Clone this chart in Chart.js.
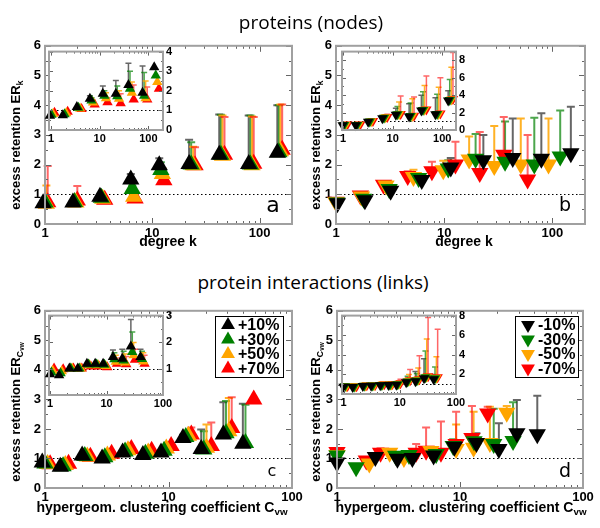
<!DOCTYPE html>
<html>
<head>
<meta charset="utf-8">
<script src="https://cdn.jsdelivr.net/npm/chart.js@4.4.1/dist/chart.umd.min.js"></script>
<style>
body { margin: 0; background: #fff; }
#wrap { position: relative; width: 600px; height: 528px; overflow: hidden; font-family: "Liberation Sans", Arial, sans-serif; }
canvas { position: absolute; }
.t { position: absolute; white-space: nowrap; line-height: 1; }
.head { font-family: "Open Sans", sans-serif; font-size: 19px; transform: translate(-50%, -50%); }
.xt { font-weight: bold; font-size: 14px; transform: translate(-50%, -50%); }
.yt { font-weight: bold; font-size: 13px; transform: translate(-50%, -50%) rotate(-90deg); }
.lt { font-family: "DejaVu Sans", sans-serif; transform: translate(-50%, -50%); }
sub { font-size: 70%; vertical-align: -0.3em; }
</style>
</head>
<body>
<div id="wrap">
  <canvas id="pa"></canvas>
  <canvas id="pb"></canvas>
  <canvas id="pc"></canvas>
  <canvas id="pd"></canvas>
  <canvas id="ia"></canvas>
  <canvas id="ib"></canvas>
  <canvas id="ic"></canvas>
  <canvas id="id"></canvas>

  <div class="t head" style="left:311px;top:22px">proteins (nodes)</div>
  <div class="t head" style="left:313px;top:282px">protein interactions (links)</div>

  <div class="t yt" style="left:17px;top:145px">excess retention ER<sub>k</sub></div>
  <div class="t yt" style="left:317px;top:145px">excess retention ER<sub>k</sub></div>
  <div class="t yt" style="left:17px;top:412px">excess retention ER<sub>C<sub>vw</sub></sub></div>
  <div class="t yt" style="left:317px;top:412px">excess retention ER<sub>C<sub>vw</sub></sub></div>

  <div class="t xt" style="left:168px;top:241px">degree k</div>
  <div class="t xt" style="left:464px;top:241px">degree k</div>
  <div class="t xt" style="left:162px;top:508px">hypergeom. clustering coefficient C<sub>vw</sub></div>
  <div class="t xt" style="left:461px;top:508px">hypergeom. clustering coefficient C<sub>vw</sub></div>

  <div class="t lt" style="left:273px;top:205px;font-size:22px">a</div>
  <div class="t lt" style="left:565px;top:204px;font-size:19px">b</div>
  <div class="t lt" style="left:272px;top:471px;font-size:16px">c</div>
  <div class="t lt" style="left:565px;top:470px;font-size:19px">d</div>
</div>

<script>
// series order everywhere: black, green, orange, red
const plusLabels = ['+10%', '+30%', '+50%', '+70%'];
const minusLabels = ['-10%', '-30%', '-50%', '-70%'];

const mainYTicks = [0, 1, 2, 3, 4, 5, 6];
const logTicks = [1, 10, 100];

// --- panel a: proteins, nodes added ---
const aX = [
    [0.96, 1.82, 3.25, 6.3, 11.6, 22, 42, 79, 146],
    [1.0, 1.88, 3.35, 6.5, 12.0, 23, 43.5, 82, 151],
    [1.03, 1.94, 3.45, 6.7, 12.4, 24, 45, 85, 156],
    [1.06, 2.0, 3.6, 6.9, 12.8, 25, 47, 88, 162]
];
const aY = [
    [0.70, 0.72, 0.92, 1.50, 1.98, 2.02, 2.33, 2.02, 2.40],
    [0.72, 0.74, 0.88, 1.18, 1.82, 2.00, 2.33, 2.00, 2.42],
    [0.68, 0.72, 0.85, 0.92, 1.68, 1.98, 2.30, 1.98, 2.45],
    [0.73, 0.79, 0.82, 0.86, 1.47, 1.98, 2.33, 2.03, 2.50]
];
const aErr = [
    [null, null, null, 1.68, 2.21, 2.84, 3.69, 3.65, 4.0],
    [0.8, null, null, 1.3, 2.08, 2.75, 3.68, 3.65, 4.0],
    [1.3, 0.8, null, 1.05, 1.88, 2.6, 3.65, 3.62, 4.02],
    [1.95, 1.28, null, null, 1.68, 2.58, 3.6, 3.6, 4.02]
];

// inset a
const aiYTicks = [0, 1, 2, 3, 4];
const aiX = [
    [0.95, 1.75, 3.4, 6.3, 11.6, 21.5, 39, 76, 132],
    [1.02, 1.9, 3.65, 6.8, 12.5, 23, 42, 82, 142],
    [1.1, 2.05, 3.95, 7.3, 13.5, 25, 46, 88, 153],
    [1.18, 2.2, 4.25, 7.9, 14.5, 27, 50, 95, 165]
];
const aiY = [
    [0.73, 0.75, 1.17, 1.6, 1.85, 1.85, 2.3, 1.9, 3.2],
    [0.78, 0.8, 1.14, 1.5, 1.75, 1.72, 2.1, 1.75, 2.78],
    [0.82, 0.86, 1.1, 1.4, 1.62, 1.6, 1.9, 1.62, 2.45],
    [0.88, 0.93, 1.07, 1.3, 1.42, 1.37, 1.55, 1.55, 2.1]
];
const aiErr = [
    [null, null, null, 1.75, 2.24, 2.53, 3.4, 3.27, null],
    [null, null, null, 1.65, 2.0, 2.25, 3.0, 2.93, null],
    [null, null, null, 1.5, 1.9, 2.0, 2.45, 2.5, null],
    [null, null, null, null, 1.65, 1.85, 2.3, 2.2, null]
];

// --- panel b: proteins, nodes removed ---
const bX = [
    [1.03, 1.85, 3.2, 6.2, 11.5, 23, 43, 79, 148],
    [1.02, 1.8, 3.1, 5.8, 10.9, 19.5, 36.5, 68, 118],
    [1.0, 1.72, 2.9, 5.2, 9.8, 17, 29, 51, 92],
    [1.0, 1.68, 2.75, 4.6, 7.7, 12.7, 21.3, 35.5, 59]
];
const bY = [
    [0.70, 0.80, 1.12, 1.48, 1.90, 2.15, 2.22, 2.20, 2.38],
    [0.72, 0.85, 1.18, 1.55, 1.87, 2.20, 2.10, 2.00, 2.27],
    [0.73, 0.93, 1.30, 1.58, 1.81, 2.17, 1.95, 2.00, 2.00],
    [0.75, 0.96, 1.32, 1.62, 1.78, 2.00, 1.72, 2.33, 1.50]
];
const bErr = [
    [null, null, null, null, 2.22, 3.0, 3.55, 3.73, 3.95],
    [null, null, null, null, 2.15, 3.03, 3.45, 3.58, 3.82],
    [null, null, 1.4, 1.83, 2.13, 2.95, 3.3, 3.55, 3.55],
    [null, null, null, 1.78, 2.1, 2.77, 3.1, 3.6, 3.0]
];

// inset b
const biYTicks = [0, 2, 4, 6, 8];
const biX = [
    [0.98, 1.8, 3.2, 6.2, 11.6, 21.5, 38, 73, 132],
    [1.05, 1.92, 3.45, 6.7, 12.5, 23, 41, 79, 142],
    [1.13, 2.06, 3.7, 7.2, 13.5, 25, 44, 85, 153],
    [1.22, 2.22, 4.0, 7.8, 14.5, 27, 48, 92, 165]
];
const biY = [
    [0.55, 0.55, 0.95, 1.35, 1.75, 1.55, 2.25, 1.8, 3.4],
    [0.58, 0.58, 0.97, 1.4, 1.8, 1.6, 2.3, 1.85, 3.45],
    [0.6, 0.6, 1.0, 1.45, 1.82, 1.62, 2.32, 1.85, 3.5],
    [0.62, 0.62, 1.02, 1.5, 1.85, 1.65, 2.35, 1.88, 3.55]
];
const biErr = [
    [null, null, null, 1.5, 2.5, 3.0, 4.0, 3.7, 4.5],
    [null, null, null, 1.55, 2.7, 3.1, 4.4, 4.1, 5.8],
    [null, null, 1.15, 1.7, 3.2, 3.6, 5.1, 4.9, 7.2],
    [null, null, 1.2, 1.8, 3.9, 3.8, 6.2, 6.0, 8.9]
];

// --- panel c: interactions, links added ---
const cX = [
    [0.95, 1.33, 2.0, 2.9, 4.25, 6.2, 8.7, 13.1, 18.4, 27.8, 40],
    [1.0, 1.4, 2.1, 3.05, 4.45, 6.5, 9.2, 13.8, 19.3, 29.2, 42],
    [1.05, 1.46, 2.2, 3.2, 4.7, 6.85, 9.6, 14.5, 20.3, 30.8, null],
    [1.1, 1.55, 2.33, 3.46, 5.0, 7.3, 10.5, 15.3, 22.2, 32.5, 49]
];
const cY = [
    [0.86, 0.72, 1.10, 1.00, 1.20, 1.12, 1.20, 1.69, 1.32, 1.81, 1.50],
    [0.83, 0.74, 1.08, 1.04, 1.24, 1.16, 1.26, 1.73, 1.30, 1.85, 1.52],
    [0.81, 0.78, 1.07, 1.10, 1.28, 1.20, 1.34, 1.77, 1.36, 1.92, null],
    [0.80, 0.82, 1.06, 1.16, 1.32, 1.26, 1.42, 1.81, 1.42, 2.03, 3.00]
];
const cErr = [
    [null, null, null, null, null, null, null, 1.8, 1.98, 2.9, 2.85],
    [null, null, null, null, null, null, null, 1.85, 1.92, 2.95, 2.82],
    [null, null, null, null, null, null, null, 1.95, 2.15, 3.05, null],
    [null, null, null, null, null, null, null, 2.05, 2.22, 3.07, null]
];

// inset c
const ciYTicks = [1, 2, 3];
const ciX = [
    [1.0, 1.45, 2.2, 3.1, 4.5, 6.3, 8.7, 13, 19, 27, 40],
    [1.06, 1.54, 2.33, 3.3, 4.8, 6.7, 9.2, 13.8, 20.1, 28.6, 42.4],
    [1.12, 1.62, 2.46, 3.5, 5.0, 7.1, 9.7, 14.6, 21.3, 30.2, 44.8],
    [1.18, 1.71, 2.6, 3.66, 5.3, 7.4, 10.3, 15.3, 22.4, 31.9, 47.2]
];
const ciY = [
    [0.78, 0.75, 1.0, 1.0, 1.18, 1.18, 1.18, 1.44, 1.37, 1.83, 1.44],
    [0.85, 0.82, 1.0, 1.0, 1.15, 1.15, 1.14, 1.35, 1.3, 1.62, 1.36],
    [0.92, 0.9, 1.0, 1.0, 1.12, 1.12, 1.1, 1.26, 1.23, 1.5, 1.27],
    [1.0, 0.97, 1.0, 1.0, 1.08, 1.08, 1.05, 1.18, 1.16, 1.33, 1.18]
];
const ciErr = [
    [null, null, null, null, null, null, null, 1.7, 1.73, 2.85, 1.73],
    [null, null, null, null, null, null, null, 1.6, 1.65, 2.38, 1.65],
    [null, null, null, null, null, null, null, 1.5, 1.55, 1.98, 1.6],
    [null, null, null, null, null, null, null, 1.4, 1.45, 1.73, 1.5]
];

// --- panel d: interactions, links removed ---
const dX = [
    [1.0, 2.05, 3.1, 4.1, 6.1, 9.0, 13.6, 20.7, 29, 42.5],
    [1.0, 1.43, 3.0, 3.85, 6.4, 8.8, 13.0, 18.8, 27],
    [1.0, 1.83, 2.68, 3.5, 5.8, 9.3, 12.9, 17.5, 24],
    [1.0, 1.73, 2.26, 4.4, 5.3, 7.0, 9.3, 12.5, 16.8]
];
const dY = [
    [0.86, 1.05, 0.99, 1.02, 1.10, 1.40, 1.52, 1.32, 1.85, 1.82],
    [1.10, 0.70, 1.09, 1.12, 1.15, 1.42, 1.58, 1.49, 1.59],
    [1.12, 0.83, 1.19, 1.02, 1.25, 1.32, 1.36, 1.52, 2.55],
    [1.22, 0.93, 1.19, 1.19, 1.26, 1.19, 1.49, 1.69, 2.52]
];
const dErr = [
    [null, null, null, null, 1.2, 1.6, 1.85, 2.19, 2.98, 3.12],
    [null, null, null, null, 1.3, 1.65, 1.8, 2.68, 2.9],
    [null, null, null, null, 1.4, 2.15, 2.58, 2.75, 2.78],
    [1.3, null, 1.35, 1.49, 2.05, 2.25, 2.58, 2.78, 2.75]
];

// inset d
const diYTicks = [2, 4, 6, 8];
const diX = [
    [1.0, 1.45, 2.2, 3.1, 4.5, 6.3, 8.7, 13, 19, 27, 40],
    [1.06, 1.54, 2.33, 3.3, 4.8, 6.7, 9.2, 13.8, 20.1, 28.6, 42.4],
    [1.12, 1.62, 2.46, 3.5, 5.0, 7.1, 9.7, 14.6, 21.3, 30.2, 44.8],
    [1.18, 1.71, 2.6, 3.66, 5.3, 7.4, 10.3, 15.3, 22.4, 31.9, 47.2]
];
const diY = [
    [0.75, 0.72, 0.82, 0.85, 0.9, 0.92, 0.95, 1.2, 1.3, 1.6, 1.5],
    [0.78, 0.75, 0.85, 0.88, 0.93, 0.95, 1.0, 1.28, 1.38, 1.7, 1.6],
    [0.8, 0.78, 0.88, 0.9, 0.96, 0.98, 1.05, 1.35, 1.45, 1.75, 1.65],
    [0.82, 0.8, 0.9, 0.93, 1.0, 1.02, 1.1, 1.4, 1.5, 1.8, 1.7]
];
const diErr = [
    [null, null, null, null, null, null, null, 1.5, 2.3, 3.6, 2.0],
    [null, null, null, null, null, null, null, 1.8, 2.1, 4.4, 2.75],
    [null, null, null, null, null, null, 1.3, 2.0, 2.65, 5.6, 3.8],
    [null, null, null, null, null, null, 1.5, 2.5, 3.9, 7.8, 6.6]
];

const COLORS = ['#000000', '#008000', '#ffa500', '#ff0000'];
const ERRCOL = ['rgba(0,0,0,0.6)', 'rgba(0,128,0,0.7)', 'rgba(255,165,0,0.85)', 'rgba(255,0,0,0.6)'];

function triangle(ctx, x, y, r, down, color) {
    const s = down ? -1 : 1;
    ctx.fillStyle = color;
    ctx.beginPath();
    ctx.moveTo(x, y - s * r);
    ctx.lineTo(x + r * 0.866, y + s * r / 2);
    ctx.lineTo(x - r * 0.866, y + s * r / 2);
    ctx.closePath();
    ctx.fill();
}

// dotted line at 1, error bars, white inset background
const axesBox = {
    id: 'axesBox',
    beforeDatasetsDraw(chart, args, o) {
        const { ctx, chartArea: a, scales: { x, y } } = chart;
        ctx.save();
        if (o.fill) {
            ctx.fillStyle = '#fff';
            ctx.fillRect(a.left, a.top, a.width, a.height);
        }
        const py = Math.round(y.getPixelForValue(1)) + 0.5;
        ctx.strokeStyle = '#000';
        ctx.lineWidth = 1;
        ctx.setLineDash([1.5, 2.5]);
        ctx.beginPath();
        ctx.moveTo(a.left, py);
        ctx.lineTo(a.right, py);
        ctx.stroke();
        ctx.setLineDash([]);

        chart.data.datasets.forEach(ds => {
            ctx.strokeStyle = ds.errColor;
            ctx.lineWidth = o.errWidth;
            ds.data.forEach(p => {
                if (p.e == null) return;
                const px = x.getPixelForValue(p.x);
                const y0 = y.getPixelForValue(p.y);
                const y1 = y.getPixelForValue(p.e);
                ctx.beginPath();
                ctx.moveTo(px, y0);
                ctx.lineTo(px, y1);
                ctx.moveTo(px - o.cap, y1);
                ctx.lineTo(px + o.cap, y1);
                ctx.stroke();
            });
        });
        ctx.restore();
    },
    afterDatasetsDraw(chart, args, o) {
        const { ctx, chartArea: a, scales: { x, y } } = chart;
        ctx.save();
        ctx.strokeStyle = '#666';
        ctx.lineWidth = 1;
        ctx.beginPath();
        const e0 = Math.floor(Math.log10(x.min)), e1 = Math.ceil(Math.log10(x.max));
        for (let e = e0; e <= e1; e++) {
            for (let m = 1; m <= 9; m++) {
                const v = m * Math.pow(10, e);
                if (v < x.min || v > x.max) continue;
                const px = Math.round(x.getPixelForValue(v)) + 0.5;
                const len = m === 1 ? o.major : o.minor;
                ctx.moveTo(px, a.bottom);
                ctx.lineTo(px, a.bottom - len);
                ctx.moveTo(px, a.top);
                ctx.lineTo(px, a.top + len);
            }
        }
        const start = Math.ceil(y.min / o.yMinor - 1e-6);
        for (let k = start; k * o.yMinor <= y.max + 1e-6; k++) {
            const v = k * o.yMinor;
            const py = Math.round(y.getPixelForValue(v)) + 0.5;
            const isMajor = Math.abs(v / o.yMajor - Math.round(v / o.yMajor)) < 1e-6;
            const len = isMajor ? o.major : o.minor;
            ctx.moveTo(a.left, py);
            ctx.lineTo(a.left + len, py);
            ctx.moveTo(a.right, py);
            ctx.lineTo(a.right - len, py);
        }
        ctx.stroke();
        ctx.strokeStyle = '#a0a0a0';
        ctx.lineWidth = 2;
        ctx.strokeRect(a.left, a.top, a.width, a.height);
        ctx.restore();
    }
};

const boxLegend = {
    id: 'boxLegend',
    afterDraw(chart, args, o) {
        if (!o.show) return;
        const { ctx, chartArea: a } = chart;
        const bx = Math.round(a.right - o.right - o.w), by = Math.round(a.top + o.top);
        ctx.save();
        ctx.fillStyle = '#fff';
        ctx.fillRect(bx, by, o.w, o.h);
        ctx.strokeStyle = '#000';
        ctx.lineWidth = 1;
        ctx.strokeRect(bx + 0.5, by + 0.5, o.w, o.h);
        ctx.font = 'bold 16px "Liberation Sans"';
        ctx.textBaseline = 'middle';
        chart.data.datasets.forEach((ds, i) => {
            const cy = by + 9 + i * 14.5;
            triangle(ctx, bx + 13, cy, 8, o.down, ds.backgroundColor);
            ctx.fillStyle = '#000';
            ctx.fillText(ds.label, bx + 23, cy + 1);
        });
        ctx.restore();
    }
};

function build(id, o) {
    const cv = document.getElementById(id);
    const W = o.box.r - o.box.l + o.pad.l + o.pad.r;
    const H = o.box.b - o.box.t + o.pad.t + o.pad.b;
    cv.width = W;
    cv.height = H;
    cv.style.left = (o.box.l - o.pad.l) + 'px';
    cv.style.top = (o.box.t - o.pad.t) + 'px';
    cv.style.width = W + 'px';
    cv.style.height = H + 'px';
    const inset = !!o.inset;
    const font = { family: 'Liberation Sans', weight: 'bold', size: inset ? 11 : 13 };

    const datasets = o.xs.map((xr, s) => ({
        label: o.labels[s],
        data: xr.map((v, i) => ({ x: v, y: o.ys[s][i], e: o.es[s][i] }))
                .filter(p => p.x != null && p.y != null),
        pointStyle: 'triangle',
        pointRotation: o.down ? 180 : 0,
        pointRadius: o.r,
        pointHoverRadius: o.r,
        backgroundColor: COLORS[s],
        pointBackgroundColor: COLORS[s],
        borderColor: COLORS[s],
        pointBorderWidth: 0,
        errColor: ERRCOL[s],
        clip: false
    }));

    return new Chart(cv, {
        type: 'scatter',
        data: { datasets },
        options: {
            responsive: false,
            animation: false,
            devicePixelRatio: 1,
            layout: {
                autoPadding: false,
                padding: { left: inset ? o.pad.l : 0, right: inset ? 0 : o.pad.r, top: o.pad.t, bottom: 0 }
            },
            plugins: {
                legend: { display: false },
                tooltip: { enabled: false },
                axesBox: {
                    fill: inset, errWidth: inset ? 1.5 : 2, cap: inset ? 3 : 4,
                    major: inset ? 4 : 6, minor: inset ? 2 : 3,
                    yMajor: o.yMajor, yMinor: o.yMinor
                },
                boxLegend: o.legend ? Object.assign({ show: true, down: o.down }, o.legend) : { show: false }
            },
            scales: {
                x: {
                    type: 'logarithmic',
                    min: o.xMin, max: o.xMax,
                    grid: { display: false, drawTicks: false },
                    border: { display: false },
                    ticks: { font, color: '#000', padding: inset ? 2 : 2, autoSkip: false, maxRotation: 0,
                             callback: v => String(v) },
                    afterBuildTicks: s => { s.ticks = logTicks.map(v => ({ value: v })); },
                    afterFit: s => { s.height = o.pad.b; }
                },
                y: {
                    type: 'linear',
                    position: inset ? 'right' : 'left',
                    min: o.yMin, max: o.yMax,
                    grid: { display: false, drawTicks: false },
                    border: { display: false },
                    ticks: { font, color: '#000', padding: inset ? 3 : 4, callback: v => String(v) },
                    afterBuildTicks: s => { s.ticks = o.yTicks.map(v => ({ value: v })); },
                    afterFit: s => { s.width = inset ? o.pad.r : o.pad.l; }
                }
            }
        },
        plugins: [axesBox, boxLegend]
    });
}

const mainPadL = { l: 45, t: 8, r: 14, b: 26 };
const mainPadR = { l: 40, t: 8, r: 14, b: 26 };
const insetPad = { l: 6, t: 6, r: 22, b: 16 };

build('pa', { box: { l: 45, t: 42, r: 292, b: 224 }, pad: mainPadL, xs: aX, ys: aY, es: aErr,
    labels: plusLabels, down: false, r: 10, xMin: 1, xMax: 200, yMin: 0, yMax: 6,
    yTicks: mainYTicks, yMajor: 1, yMinor: 0.5 });
build('pb', { box: { l: 336, t: 42, r: 585, b: 224 }, pad: mainPadR, xs: bX, ys: bY, es: bErr,
    labels: minusLabels, down: true, r: 10, xMin: 1, xMax: 200, yMin: 0, yMax: 6,
    yTicks: mainYTicks, yMajor: 1, yMinor: 0.5 });
build('pc', { box: { l: 45, t: 307, r: 292, b: 488 }, pad: mainPadL, xs: cX, ys: cY, es: cErr,
    labels: plusLabels, down: false, r: 10, xMin: 1, xMax: 100, yMin: 0, yMax: 6,
    yTicks: mainYTicks, yMajor: 1, yMinor: 0.5,
    legend: { right: 9, top: 5, w: 68, h: 61 } });
build('pd', { box: { l: 337, t: 307, r: 583, b: 488 }, pad: mainPadR, xs: dX, ys: dY, es: dErr,
    labels: minusLabels, down: true, r: 10, xMin: 1, xMax: 100, yMin: 0, yMax: 6,
    yTicks: mainYTicks, yMajor: 1, yMinor: 0.5,
    legend: { right: 5, top: 5, w: 63, h: 61 } });

build('ia', { inset: true, box: { l: 49, t: 48, r: 163, b: 130 }, pad: insetPad, xs: aiX, ys: aiY, es: aiErr,
    labels: plusLabels, down: false, r: 6, xMin: 0.91, xMax: 200, yMin: 0, yMax: 4,
    yTicks: aiYTicks, yMajor: 1, yMinor: 0.5 });
build('ib', { inset: true, box: { l: 342, t: 48, r: 456, b: 130 }, pad: insetPad, xs: biX, ys: biY, es: biErr,
    labels: minusLabels, down: true, r: 6, xMin: 0.95, xMax: 190, yMin: 0, yMax: 9,
    yTicks: biYTicks, yMajor: 2, yMinor: 1 });
build('ic', { inset: true, box: { l: 49, t: 312, r: 163, b: 395 }, pad: insetPad, xs: ciX, ys: ciY, es: ciErr,
    labels: plusLabels, down: false, r: 6, xMin: 0.96, xMax: 100, yMin: 0, yMax: 3,
    yTicks: ciYTicks, yMajor: 1, yMinor: 0.5 });
build('id', { inset: true, box: { l: 342, t: 312, r: 456, b: 394 }, pad: insetPad, xs: diX, ys: diY, es: diErr,
    labels: minusLabels, down: true, r: 6, xMin: 0.94, xMax: 100, yMin: 0, yMax: 8,
    yTicks: diYTicks, yMajor: 2, yMinor: 1 });
</script>
</body>
</html>
